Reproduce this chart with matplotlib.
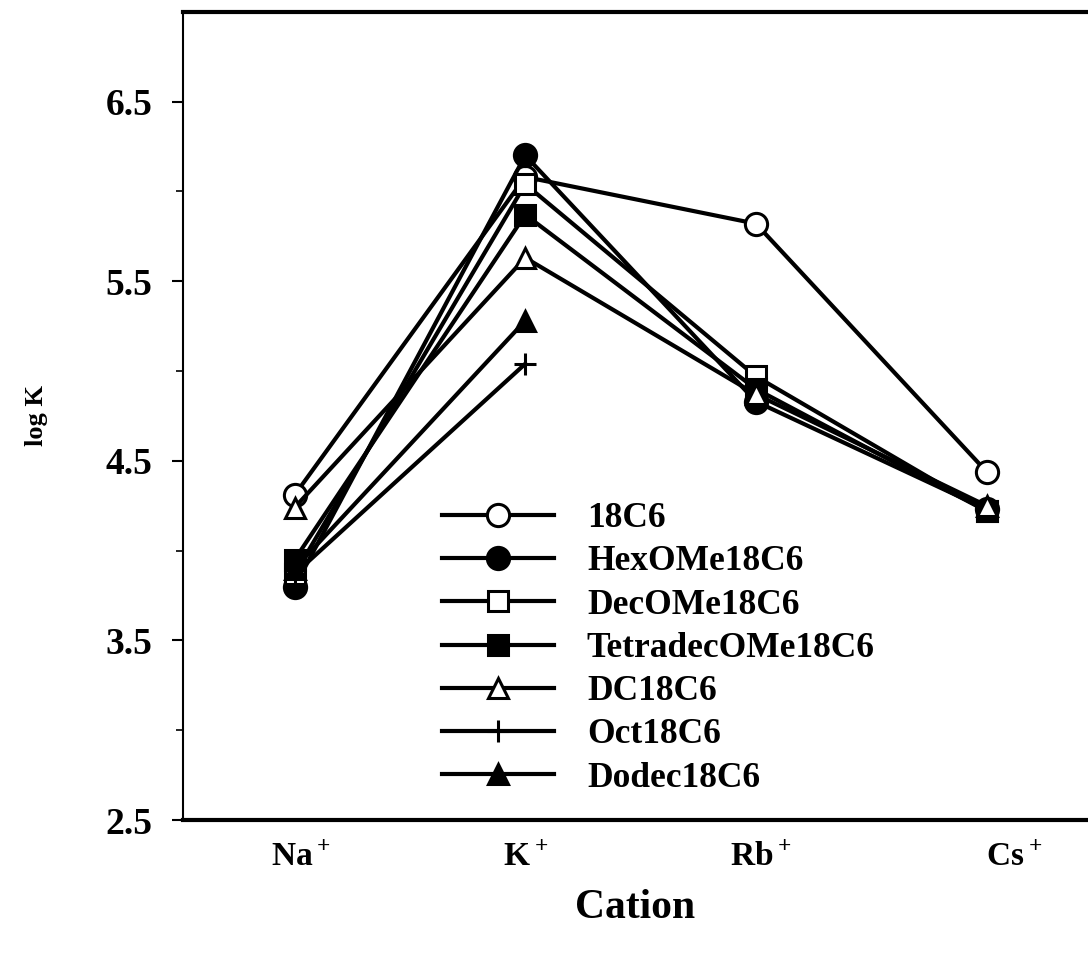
import matplotlib
matplotlib.use("Agg")
import matplotlib.pyplot as plt

plt.rcParams["font.family"] = ["Liberation Serif", "DejaVu Serif"]
plt.rcParams["font.weight"] = "bold"
plt.rcParams["mathtext.fontset"] = "custom"
plt.rcParams["mathtext.rm"] = "Liberation Serif:bold"
plt.rcParams["mathtext.bf"] = "Liberation Serif:bold"

# ==== data ====
cations = ["Na$^+$", "K$^+$", "Rb$^+$", "Cs$^+$"]
pos = [0, 1, 2, 3]
label_pos = [0.03, 1.0, 2.02, 3.12]

logk_18c6 = [4.31, 6.08, 5.82, 4.44]
logk_hexome = [3.80, 6.20, 4.83, 4.23]
logk_decome = [3.87, 6.04, 4.97, 4.22]
logk_tetradec = [3.95, 5.87, 4.90, 4.22]
logk_dc18c6 = [4.24, 5.63, 4.87, 4.25]
logk_oct = [3.87, 5.04]
logk_dodec = [3.90, 5.28]

series = [
    ("18C6", logk_18c6, "o", "white", 16),
    ("HexOMe18C6", logk_hexome, "o", "black", 16),
    ("DecOMe18C6", logk_decome, "s", "white", 15),
    ("TetradecOMe18C6", logk_tetradec, "s", "black", 15),
    ("DC18C6", logk_dc18c6, "^", "white", 15),
    ("Oct18C6", logk_oct, "+", "black", 16),
    ("Dodec18C6", logk_dodec, "^", "black", 15),
]

fig = plt.figure(figsize=(10.88, 9.74), dpi=100)
ax = fig.add_axes([0.168, 0.158, 0.832, 0.83])

for name, vals, mk, fc, ms in series:
    ax.plot(pos[:len(vals)], vals, color="black", lw=3.0, marker=mk,
            markersize=ms, markerfacecolor=fc, markeredgecolor="black",
            markeredgewidth=2.2, label=name)

ax.set_xlim(-0.485, 3.44)
ax.set_ylim(2.5, 7.0)
ax.set_yticks([2.5, 3.5, 4.5, 5.5, 6.5])
ax.set_yticks([3.0, 4.0, 5.0, 6.0], minor=True)
ax.set_yticklabels(["2.5", "3.5", "4.5", "5.5", "6.5"], fontsize=27, fontweight="bold")
ax.tick_params(axis="y", which="major", length=8, width=1.5, direction="out", pad=14)
ax.tick_params(axis="y", which="minor", length=5, width=1.2, direction="out")

ax.set_xticks(label_pos)
ax.set_xticklabels(cations, fontsize=24, fontweight="bold")
ax.tick_params(axis="x", length=0, pad=16)

ax.spines["right"].set_visible(False)
ax.spines["top"].set_linewidth(3.0)
ax.spines["bottom"].set_linewidth(3.0)
ax.spines["left"].set_linewidth(1.5)

ax.set_ylabel("log K", fontsize=19, fontweight="bold")
ax.yaxis.set_label_coords(-0.149, 0.5)
ax.set_xlabel("Cation", fontsize=30, fontweight="bold", labelpad=11)

leg = ax.legend(loc="upper left", bbox_to_anchor=(0.259, 0.424), frameon=False,
                fontsize=25.5, handlelength=3.16, handletextpad=0.93,
                labelspacing=0.29, markerscale=1.0, borderpad=0.2)
for t in leg.get_texts():
    t.set_fontweight("bold")

fig.savefig("out.png", dpi=100)
